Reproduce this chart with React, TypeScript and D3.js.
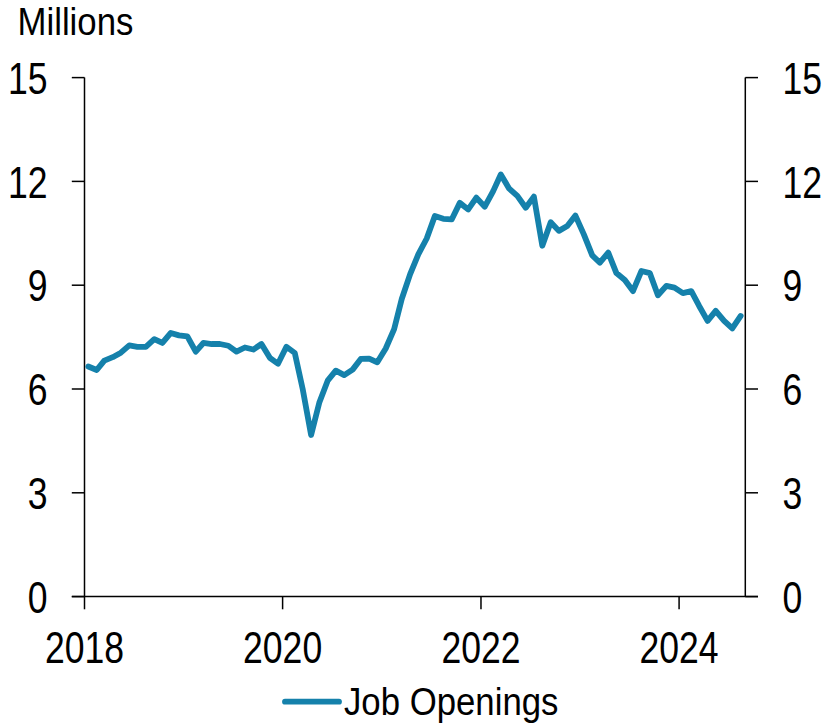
import React from "react";
import * as d3 from "d3";

const startYear = 2018;
const values2018 = [6.65, 6.55, 6.82, 6.92, 7.05, 7.26, 7.22, 7.22, 7.44, 7.33, 7.62, 7.55];
const values2019 = [7.52, 7.08, 7.33, 7.3, 7.3, 7.25, 7.08, 7.2, 7.14, 7.3, 6.9, 6.73];
const values2020 = [7.22, 7.04, 6.0, 4.67, 5.6, 6.24, 6.53, 6.4, 6.56, 6.87, 6.88, 6.77];
const values2021 = [7.17, 7.73, 8.6, 9.32, 9.89, 10.35, 11.0, 10.92, 10.9, 11.38, 11.19, 11.53];
const values2022 = [11.27, 11.72, 12.2, 11.79, 11.58, 11.24, 11.56, 10.14, 10.82, 10.57, 10.71, 11.01];
const values2023 = [10.47, 9.86, 9.65, 9.94, 9.35, 9.15, 8.83, 9.41, 9.35, 8.71, 8.98, 8.93];
const values2024 = [8.77, 8.83, 8.4, 7.97, 8.26, 7.97, 7.75, 8.11];

const yTicks = [0, 3, 6, 9, 12, 15];
const xTickYears = [2018, 2020, 2022, 2024];
const seriesName = "Job Openings";
const unitLabel = "Millions";

const allValues = [values2018, values2019, values2020, values2021, values2022, values2023, values2024];
const data = allValues.flatMap((arr, yi) =>
  arr.map((v, mi) => ({ date: new Date(startYear + yi, mi, 15), value: v }))
);

const W = 825;
const H = 724;
const left = 84.5;
const right = 745.3;
const top = 77.6;
const bottom = 596.6;
const color = "#1581AB";
const font = "'Liberation Sans', Arial, sans-serif";
const numSize = 45;
const numScale = 0.79;
const txtSize = 39.5;
const txtScale = 0.88;

function SText(props: { x: number; y: number; size: number; sx: number; anchor?: string; children: any }) {
  return (
    <text
      transform={`translate(${props.x},${props.y}) scale(${props.sx},1)`}
      fontFamily={font}
      fontSize={props.size}
      textAnchor={props.anchor || "start"}
      fill="#000"
    >
      {props.children}
    </text>
  );
}

export default function App() {
  const x = d3.scaleTime().domain([new Date(2018, 0, 1), new Date(2024, 8, 1)]).range([left, right]);
  const y = d3.scaleLinear().domain([0, 15]).range([bottom, top]);
  const line = d3
    .line<{ date: Date; value: number }>()
    .x((d) => x(d.date))
    .y((d) => y(d.value));
  const tickLen = 12.7;
  return (
    <svg width={W} height={H} style={{ position: "absolute", left: 0, top: 0 }}>
      <rect width={W} height={H} fill="white" />
      <SText x={17.5} y={35} size={txtSize} sx={txtScale}>
        {unitLabel}
      </SText>
      <g stroke="#000" strokeWidth={1.5} fill="none">
        <line x1={left} x2={left} y1={top} y2={bottom} />
        <line x1={right} x2={right} y1={top} y2={bottom} />
        <line x1={left - tickLen} x2={right + tickLen} y1={bottom} y2={bottom} />
        {yTicks.map((t) => (
          <g key={"yt" + t}>
            <line x1={left - tickLen} x2={left} y1={y(t)} y2={y(t)} />
            <line x1={right} x2={right + tickLen} y1={y(t)} y2={y(t)} />
          </g>
        ))}
        {xTickYears.map((yr) => (
          <line key={"xt" + yr} x1={x(new Date(yr, 0, 1))} x2={x(new Date(yr, 0, 1))} y1={bottom} y2={bottom + tickLen} />
        ))}
      </g>
      {yTicks.map((t) => (
        <g key={"yl" + t}>
          <SText x={47.5} y={y(t) + 16.1} size={numSize} sx={numScale} anchor="end">
            {t}
          </SText>
          <SText x={782.5} y={y(t) + 16.1} size={numSize} sx={numScale} anchor="start">
            {t}
          </SText>
        </g>
      ))}
      {xTickYears.map((yr) => (
        <SText key={"xl" + yr} x={x(new Date(yr, 0, 1))} y={663} size={numSize} sx={numScale} anchor="middle">
          {yr}
        </SText>
      ))}
      <path d={line(data) || ""} fill="none" stroke={color} strokeWidth={5.8} strokeLinejoin="round" strokeLinecap="round" />
      <line x1={285} x2={339} y1={701.7} y2={701.7} stroke={color} strokeWidth={5.8} strokeLinecap="round" />
      <SText x={344} y={715} size={txtSize} sx={txtScale}>
        {seriesName}
      </SText>
    </svg>
  );
}
